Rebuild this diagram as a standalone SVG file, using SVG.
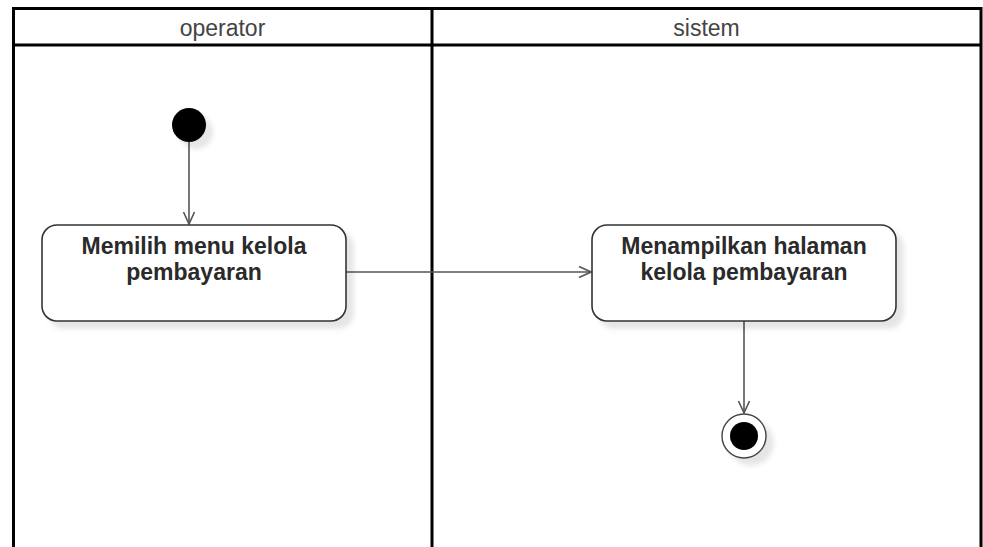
<svg xmlns="http://www.w3.org/2000/svg" width="983" height="547" viewBox="0 0 983 547">
  <style>
    .lane { fill: none; stroke: #000; stroke-width: 3; }
    .hdr { font-family: "Liberation Sans", Arial, sans-serif; font-size: 23px; fill: #444; text-anchor: middle; }
    .node { fill: #fff; stroke: #333; stroke-width: 1.6; }
    .lbl { font-family: "Liberation Sans", Arial, sans-serif; font-size: 23px; font-weight: bold; fill: #2a2a2a; text-anchor: middle; }
    .edge { fill: none; stroke: #555; stroke-width: 1.6; }
  </style>
  <defs>
    <filter id="sh" x="-20%" y="-20%" width="150%" height="160%">
      <feOffset in="SourceAlpha" dx="7" dy="7" result="o"/>
      <feGaussianBlur in="o" stdDeviation="2.5" result="b"/>
      <feFlood flood-color="#000" flood-opacity="0.1"/>
      <feComposite in2="b" operator="in" result="s"/>
      <feMerge><feMergeNode in="s"/><feMergeNode in="SourceGraphic"/></feMerge>
    </filter>
    <marker id="arr" viewBox="0 0 14 14" refX="13" refY="7" markerWidth="14" markerHeight="14" markerUnits="userSpaceOnUse" orient="auto">
      <path d="M1,1.5 L13,7 L1,12.5" fill="none" stroke="#555" stroke-width="1.6"/>
    </marker>
  </defs>
  <rect width="983" height="547" fill="#fff"/>

  <g id="swimlanes">
    <path class="lane" d="M13.5,560 V8.5 H981 V560"/>
    <line class="lane" x1="13.5" y1="45" x2="981" y2="45"/>
    <line class="lane" x1="432" y1="8.5" x2="432" y2="560"/>
    <text class="hdr" x="222.5" y="36">operator</text>
    <text class="hdr" x="706.5" y="36">sistem</text>
  </g>

  <g id="connectors">
    <line class="edge" x1="189" y1="142" x2="189" y2="224" marker-end="url(#arr)"/>
    <line class="edge" x1="346" y1="272" x2="591" y2="272" marker-end="url(#arr)"/>
    <line class="edge" x1="744" y1="321" x2="744" y2="413" marker-end="url(#arr)"/>
  </g>

  <g id="start" filter="url(#sh)">
    <circle cx="189" cy="125" r="17" fill="#000"/>
  </g>

  <g id="node-memilih">
    <rect class="node" x="42" y="225" width="304" height="96" rx="15" filter="url(#sh)"/>
    <text class="lbl" x="194" y="254">Memilih menu kelola</text>
    <text class="lbl" x="194" y="280">pembayaran</text>
  </g>

  <g id="node-menampilkan">
    <rect class="node" x="592" y="225" width="304" height="96" rx="15" filter="url(#sh)"/>
    <text class="lbl" x="744" y="254">Menampilkan halaman</text>
    <text class="lbl" x="744" y="280">kelola pembayaran</text>
  </g>

  <g id="end" filter="url(#sh)">
    <circle cx="744" cy="436" r="22" fill="#fff" stroke="#444" stroke-width="1.4"/>
    <circle cx="744" cy="436" r="14" fill="#000"/>
  </g>
</svg>
